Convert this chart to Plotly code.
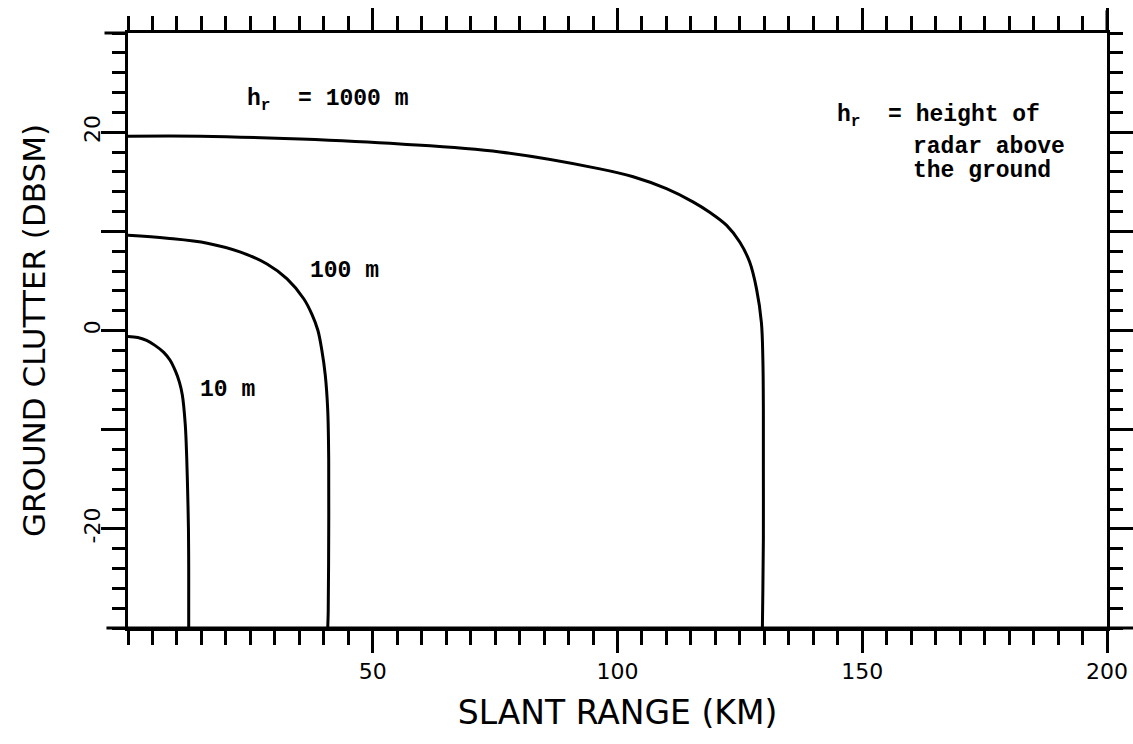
import plotly.graph_objects as go

# Slant range (km) and ground clutter (dBsm), per radar height
range_10m = [0, 2.0, 3.8, 5.5, 7.3, 8.6, 9.7, 10.5, 11.1, 11.7, 12.0, 12.2, 12.35, 12.4, 12.4, 12.4]
clutter_10m = [-0.6, -0.7, -1.0, -1.5, -2.2, -3.0, -4.1, -5.2, -6.5, -9.5, -12.9, -16.5, -20.0, -24.0, -28.0, -30]

range_100m = [0, 8.0, 16.2, 23.0, 28.4, 32.5, 35.9, 37.6, 38.8, 39.6, 40.3, 40.8, 41.0, 41.0, 40.9, 40.8]
clutter_100m = [9.6, 9.3, 8.8, 7.9, 6.7, 5.2, 3.2, 1.6, 0.0, -2.0, -4.5, -8.0, -13.0, -20.4, -28.4, -30]

range_1000m = [0, 14.8, 35.2, 55.6, 76.0, 96.4, 103.2, 110.0, 115.5, 118.9, 122.3, 125.0,
               127.0, 128.4, 129.4, 129.7, 129.8, 129.8, 129.8, 129.7, 129.6]
clutter_1000m = [19.6, 19.6, 19.3, 18.8, 18.0, 16.3, 15.5, 14.3, 12.95, 11.9, 10.6, 8.9,
                 6.9, 4.2, 0.8, -3.0, -8.0, -14.0, -21.0, -26.0, -30]

x_tickvals = [50, 100, 150, 200]
x_ticktext = ["50", "100", "150", "200"]
y_tickvals = [-20, -10, 0, 10, 20]
y_ticktext = ["-20", "", "0", "", "20"]

series = [
    ("10 m", range_10m, clutter_10m),
    ("100 m", range_100m, clutter_100m),
    ("1000 m", range_1000m, clutter_1000m),
]

fig = go.Figure()
for name, xs, ys in series:
    fig.add_trace(go.Scatter(
        x=xs, y=ys, mode="lines", name=name,
        line=dict(color="black", width=3, shape="spline", smoothing=1.0),
        showlegend=False, hoverinfo="skip",
    ))

label_font = dict(family="Liberation Mono", size=23, color="black", weight="bold")
sans = "DejaVu Sans"
nb = "\u00a0"

annotations = [
    dict(x=24.0, y=23.2, text=f"h<sub>r</sub>{nb} = 1000 m", xanchor="left", yanchor="middle"),
    dict(x=36.7, y=6.0, text="100 m", xanchor="left", yanchor="middle"),
    dict(x=14.4, y=-6.0, text="10 m", xanchor="left", yanchor="middle"),
    dict(x=144.4, y=21.6, text=f"h<sub>r</sub>{nb} = height of", xanchor="left", yanchor="middle"),
    dict(x=159.9, y=18.5, text="radar above", xanchor="left", yanchor="middle"),
    dict(x=159.9, y=16.1, text="the ground", xanchor="left", yanchor="middle"),
]
for a in annotations:
    a.update(xref="x", yref="y", showarrow=False, font=label_font)

fig.update_layout(
    width=1133, height=744, autosize=False,
    margin=dict(l=128, r=26, t=33, b=116),
    paper_bgcolor="white", plot_bgcolor="white",
    annotations=annotations,
    xaxis=dict(
        range=[0, 200], showgrid=False, zeroline=False, automargin=False,
        showline=True, linecolor="black", linewidth=3, mirror="ticks",
        tickmode="array", tickvals=x_tickvals, ticktext=x_ticktext,
        ticks="outside", ticklen=22, tickwidth=3, tickcolor="black",
        tickfont=dict(family=sans, size=22, color="black"),
        minor=dict(dtick=5, tick0=0, ticks="outside", ticklen=14, tickwidth=3,
                   tickcolor="black", showgrid=False),
        title=dict(text="SLANT RANGE (KM)", font=dict(family=sans, size=33, color="black"),
                   standoff=18),
    ),
    yaxis=dict(
        range=[-30, 30], showgrid=False, zeroline=False, automargin=False,
        showline=True, linecolor="black", linewidth=3, mirror="ticks",
        tickmode="array", tickvals=y_tickvals, ticktext=y_ticktext,
        ticks="outside", ticklen=24, tickwidth=3, tickcolor="black", tickangle=-90,
        ticklabelstandoff=-8,
        tickfont=dict(family=sans, size=22, color="black"),
        minor=dict(dtick=2, tick0=0, ticks="outside", ticklen=13, tickwidth=3,
                   tickcolor="black", showgrid=False),
        title=dict(text="GROUND CLUTTER (DBSM)", font=dict(family=sans, size=31, color="black"),
                   standoff=26),
    ),
    shapes=[
        dict(type="line", xref="paper", yref="paper", x0=-0.022, x1=1.027, y0=0, y1=0,
             line=dict(color="black", width=3)),
        dict(type="line", xref="paper", yref="paper", x0=-0.024, x1=0, y0=1, y1=1,
             line=dict(color="black", width=3)),
        dict(type="line", xref="paper", yref="paper", x0=1, x1=1, y0=1, y1=1.038,
             line=dict(color="black", width=3)),
    ],
)

fig.write_html(
    "out.html",
    config={"responsive": False},
    post_script="document.body.style.margin='0';document.documentElement.style.overflow='hidden';document.body.style.overflow='hidden';",
)
